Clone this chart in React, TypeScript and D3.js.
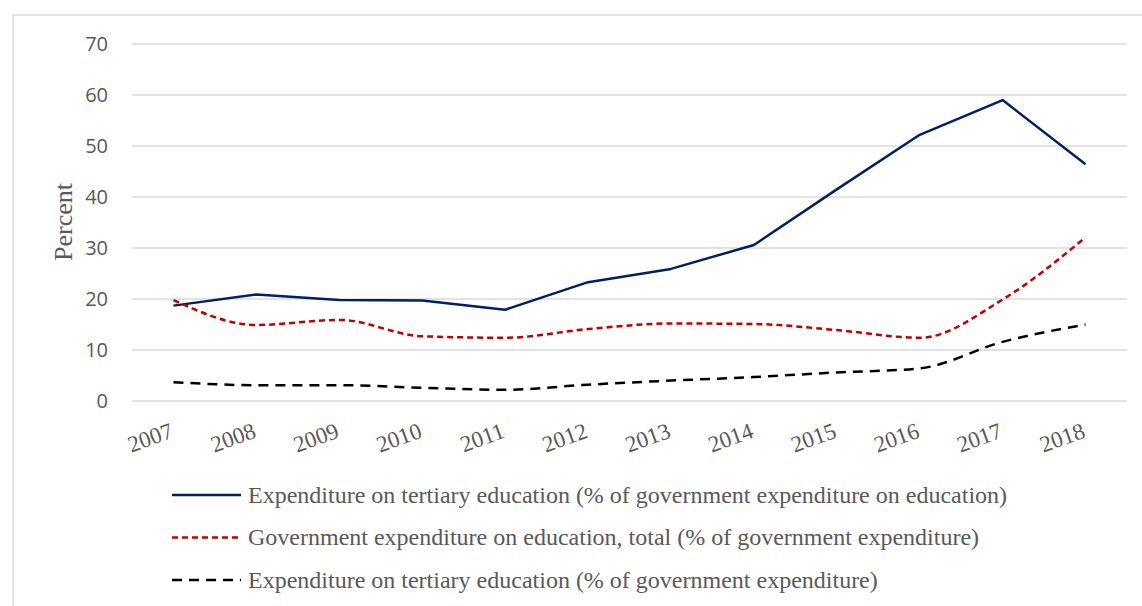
import React from "react";
import * as d3 from "d3";

const years = ["2007","2008","2009","2010","2011","2012","2013","2014","2015","2016","2017","2018"];
const tertiaryOfEdu = [18.7, 20.9, 19.8, 19.7, 17.9, 23.3, 25.9, 30.6, 41.5, 52.2, 59.0, 46.4];
const eduOfGov = [19.8, 14.9, 15.9, 12.7, 12.4, 14.1, 15.2, 15.1, 13.9, 12.4, 19.9, 32.1];
const tertiaryOfGov = [3.7, 3.1, 3.1, 2.6, 2.2, 3.2, 4.0, 4.7, 5.6, 6.4, 11.6, 15.0];
const yTicks = [0, 10, 20, 30, 40, 50, 60, 70];
const seriesNames = [
  "Expenditure on tertiary education (% of government expenditure on education)",
  "Government expenditure on education, total (% of government expenditure)",
  "Expenditure on tertiary education (% of government expenditure)",
];

const W = 1142, H = 606;
const left = 132, right = 1127, top = 44, bottom = 401;

export default function App() {
  const x = d3.scaleBand<string>().domain(years).range([left, right]);
  const y = d3.scaleLinear().domain([0, 70]).range([bottom, top]);
  const cx = (d: string) => (x(d) as number) + x.bandwidth() / 2;

  const lin = d3.line<number>().x((_, i) => cx(years[i])).y((v) => y(v));
  const smooth = d3.line<number>().x((_, i) => cx(years[i])).y((v) => y(v)).curve(d3.curveMonotoneX);

  const series = [
    { vals: tertiaryOfEdu, color: "#002060", dash: "none", gen: lin, w: 2.5 },
    { vals: eduOfGov, color: "#C00000", dash: "6,4", gen: smooth, w: 2.5 },
    { vals: tertiaryOfGov, color: "#000000", dash: "10,7", gen: smooth, w: 2.5 },
  ];

  return (
    <svg width={W} height={H} style={{ position: "absolute", left: 0, top: 0 }}>
      <rect x={0} y={0} width={W} height={H} fill="#fff" />
      <rect x={13} y={15} width={W} height={H} fill="none" stroke="#d9d9d9" strokeWidth={1.3} />
      {yTicks.map((t) => (
        <g key={t}>
          <line x1={left} x2={right} y1={y(t)} y2={y(t)} stroke="#d9d9d9" strokeWidth={1.3} />
          <text x={108} y={y(t)} dy="0.36em" textAnchor="end" fontFamily="Open Sans" fontSize={20} fill="#595959">{t}</text>
        </g>
      ))}
      <text transform={`translate(72,222) rotate(-90)`} textAnchor="middle" fontFamily="Liberation Serif" fontSize={26} fill="#595959">Percent</text>
      {years.map((yr) => (
        <text key={yr} transform={`translate(${cx(yr) + 1},437) rotate(-20)`} textAnchor="end" fontFamily="Liberation Serif" fontSize={23} fill="#595959">{yr}</text>
      ))}
      {series.map((s, i) => (
        <path key={i} d={s.gen(s.vals) as string} fill="none" stroke={s.color} strokeWidth={s.w} strokeDasharray={s.dash} strokeLinejoin="round" />
      ))}
      {series.map((s, i) => {
        const ly = 495 + i * 42.5;
        return (
          <g key={i}>
            <line x1={172} x2={241} y1={ly} y2={ly} stroke={s.color} strokeWidth={2.5} strokeDasharray={s.dash} />
            <text x={248} y={ly} dy="0.33em" fontFamily="Liberation Serif" fontSize={24} fill="#595959">{seriesNames[i]}</text>
          </g>
        );
      })}
    </svg>
  );
}
